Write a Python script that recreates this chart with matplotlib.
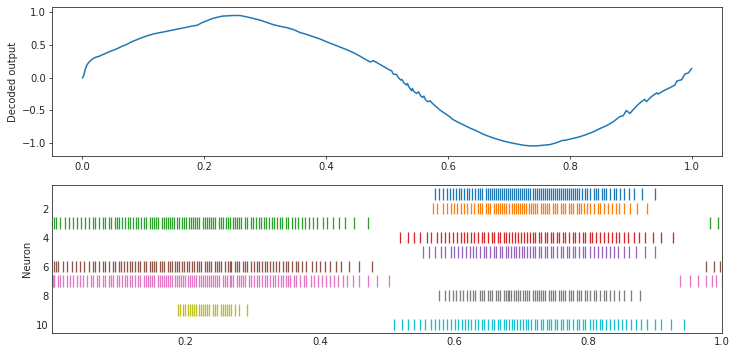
import matplotlib
matplotlib.use("Agg")
import matplotlib.pyplot as plt

# Decoded output trace (time, value)
t_dec = [0.000, 0.002, 0.004, 0.007, 0.010, 0.013, 0.017, 0.021, 0.028, 0.035, 0.045, 0.056,
         0.065, 0.073, 0.081, 0.089, 0.097, 0.106, 0.117, 0.128, 0.139, 0.149, 0.160, 0.171,
         0.180, 0.188, 0.196, 0.204, 0.212, 0.220, 0.229, 0.237, 0.247, 0.258, 0.269, 0.280,
         0.291, 0.302, 0.313, 0.324, 0.335, 0.346, 0.357, 0.368, 0.379, 0.390, 0.400, 0.411,
         0.422, 0.433, 0.445, 0.455, 0.466, 0.472, 0.477, 0.483, 0.494, 0.504, 0.507, 0.510,
         0.515, 0.518, 0.522, 0.524, 0.527, 0.532, 0.533, 0.536, 0.540, 0.541, 0.544, 0.548,
         0.551, 0.555, 0.558, 0.560, 0.563, 0.567, 0.570, 0.575, 0.581,
         0.586, 0.592, 0.597, 0.603, 0.608, 0.614, 0.625, 0.636, 0.646, 0.657, 0.668, 0.679,
         0.690, 0.701, 0.712, 0.723, 0.734, 0.745, 0.756, 0.767, 0.778, 0.786, 0.794, 0.805,
         0.816, 0.827, 0.838, 0.849, 0.860, 0.871, 0.881, 0.887, 0.892, 0.898, 0.903, 0.910,
         0.917, 0.922, 0.925, 0.933, 0.942, 0.944, 0.953, 0.964, 0.972, 0.975, 0.983, 0.988,
         0.994, 0.999]
v_dec = [0.000, 0.03, 0.11, 0.19, 0.23, 0.26, 0.29, 0.31, 0.33, 0.36, 0.40, 0.44,
         0.48, 0.51, 0.55, 0.58, 0.61, 0.64, 0.67, 0.69, 0.71, 0.73, 0.75, 0.77,
         0.79, 0.80, 0.84, 0.87, 0.90, 0.92, 0.94, 0.945, 0.95, 0.95, 0.93, 0.905,
         0.88, 0.845, 0.81, 0.785, 0.765, 0.735, 0.69, 0.66, 0.625, 0.59, 0.55, 0.51,
         0.47, 0.43, 0.38, 0.33, 0.27, 0.24, 0.26, 0.23, 0.17, 0.116, 0.106, 0.055,
         0.050, 0.004, -0.036, -0.026, -0.077, -0.112, -0.087, -0.148, -0.199, -0.163, -0.214, -0.239,
         -0.214, -0.280, -0.300, -0.280, -0.341, -0.366, -0.351, -0.40, -0.45,
         -0.49, -0.53, -0.56, -0.60, -0.64, -0.67, -0.72, -0.77, -0.81, -0.86, -0.90, -0.935,
         -0.965, -0.99, -1.01, -1.03, -1.04, -1.04, -1.03, -1.02, -0.99, -0.96, -0.95, -0.925,
         -0.90, -0.865, -0.825, -0.775, -0.73, -0.67, -0.595, -0.58, -0.50, -0.545, -0.49, -0.42,
         -0.365, -0.33, -0.365, -0.29, -0.23, -0.25, -0.20, -0.15, -0.11, -0.05, -0.03, 0.055,
         0.075, 0.14]

# Spike times (s) per neuron
n1 = [0.571,0.577,0.583,0.589,0.594,0.599,0.603,0.607,0.611,0.615,0.620,0.623,0.627,0.632,0.635,0.639,0.642,0.647,0.650,0.653,0.656,0.659,0.662,0.666,0.669,0.672,0.675,0.678,0.681,0.684,0.687,0.690,0.693,0.696,0.699,0.702,0.705,0.708,0.711,0.714,0.717,0.720,0.723,0.726,0.729,0.732,0.735,0.738,0.741,0.744,0.747,0.750,0.753,0.756,0.759,0.762,0.765,0.768,0.771,0.774,0.777,0.781,0.784,0.787,0.791,0.796,0.799,0.803,0.808,0.811,0.815,0.820,0.823,0.827,0.832,0.838,0.842,0.848,0.854,0.861,0.869,0.881,0.899]
n2 = [0.568,0.575,0.583,0.589,0.595,0.600,0.605,0.611,0.615,0.620,0.626,0.630,0.635,0.638,0.642,0.647,0.650,0.654,0.659,0.662,0.666,0.669,0.672,0.675,0.678,0.682,0.687,0.690,0.693,0.696,0.699,0.702,0.705,0.708,0.712,0.715,0.718,0.721,0.724,0.729,0.732,0.735,0.738,0.742,0.747,0.750,0.754,0.759,0.762,0.766,0.771,0.775,0.778,0.783,0.787,0.790,0.794,0.799,0.803,0.808,0.814,0.818,0.823,0.829,0.835,0.841,0.846,0.854,0.863,0.873,0.887]
n3 = [0.004,0.007,0.013,0.020,0.026,0.032,0.038,0.044,0.050,0.056,0.061,0.065,0.071,0.076,0.080,0.086,0.089,0.094,0.098,0.101,0.105,0.110,0.114,0.117,0.122,0.126,0.129,0.134,0.138,0.141,0.146,0.150,0.153,0.156,0.159,0.164,0.167,0.171,0.174,0.177,0.180,0.183,0.187,0.190,0.195,0.198,0.201,0.205,0.208,0.211,0.214,0.217,0.220,0.225,0.228,0.231,0.235,0.238,0.241,0.244,0.249,0.252,0.255,0.260,0.263,0.266,0.270,0.273,0.277,0.280,0.283,0.288,0.291,0.297,0.300,0.304,0.309,0.312,0.316,0.320,0.324,0.328,0.332,0.336,0.340,0.344,0.349,0.353,0.359,0.363,0.368,0.374,0.378,0.384,0.390,0.396,0.404,0.411,0.419,0.428,0.438,0.451,0.471,0.982,0.994]
n4 = [0.520,0.532,0.541,0.550,0.559,0.566,0.574,0.581,0.587,0.593,0.599,0.605,0.611,0.615,0.620,0.626,0.630,0.635,0.641,0.645,0.650,0.656,0.660,0.665,0.669,0.674,0.678,0.682,0.687,0.691,0.696,0.700,0.705,0.709,0.714,0.717,0.721,0.726,0.730,0.735,0.739,0.744,0.748,0.753,0.757,0.762,0.766,0.772,0.777,0.781,0.787,0.792,0.796,0.802,0.806,0.811,0.817,0.823,0.829,0.835,0.841,0.846,0.854,0.860,0.869,0.876,0.885,0.896,0.908,0.926]
n5 = [0.553,0.563,0.572,0.581,0.587,0.595,0.600,0.606,0.612,0.618,0.624,0.629,0.633,0.639,0.644,0.648,0.653,0.659,0.663,0.668,0.672,0.677,0.681,0.685,0.690,0.693,0.697,0.702,0.705,0.709,0.714,0.718,0.721,0.726,0.730,0.735,0.739,0.744,0.748,0.754,0.759,0.763,0.768,0.772,0.777,0.781,0.786,0.792,0.796,0.802,0.808,0.814,0.820,0.826,0.832,0.838,0.845,0.854,0.861,0.872,0.884,0.899]
n6 = [0.004,0.007,0.010,0.017,0.023,0.031,0.037,0.043,0.049,0.055,0.061,0.065,0.071,0.076,0.080,0.086,0.091,0.095,0.100,0.104,0.108,0.113,0.117,0.120,0.125,0.129,0.132,0.137,0.141,0.146,0.149,0.153,0.156,0.161,0.165,0.168,0.173,0.177,0.180,0.184,0.187,0.190,0.195,0.198,0.202,0.205,0.210,0.213,0.217,0.220,0.223,0.228,0.232,0.235,0.238,0.243,0.246,0.250,0.253,0.258,0.263,0.266,0.268,0.273,0.276,0.280,0.285,0.289,0.292,0.297,0.301,0.306,0.309,0.313,0.318,0.321,0.325,0.330,0.334,0.339,0.345,0.349,0.353,0.359,0.364,0.368,0.374,0.380,0.388,0.394,0.400,0.407,0.415,0.424,0.432,0.444,0.458,0.477,0.975,0.987,0.997]
n7 = [0.002,0.003,0.004,0.009,0.013,0.017,0.023,0.028,0.032,0.038,0.043,0.047,0.053,0.058,0.062,0.068,0.071,0.076,0.080,0.085,0.089,0.092,0.097,0.101,0.105,0.110,0.113,0.117,0.120,0.125,0.129,0.132,0.137,0.140,0.144,0.147,0.150,0.153,0.158,0.161,0.165,0.168,0.171,0.174,0.177,0.180,0.184,0.187,0.190,0.193,0.196,0.199,0.204,0.207,0.210,0.213,0.216,0.219,0.222,0.225,0.228,0.231,0.234,0.238,0.241,0.244,0.247,0.250,0.255,0.258,0.261,0.266,0.268,0.271,0.276,0.279,0.283,0.286,0.289,0.294,0.297,0.301,0.306,0.309,0.313,0.318,0.321,0.325,0.330,0.333,0.337,0.342,0.345,0.349,0.353,0.356,0.362,0.365,0.371,0.376,0.380,0.386,0.391,0.397,0.403,0.409,0.415,0.421,0.427,0.434,0.441,0.450,0.459,0.471,0.485,0.503,0.937,0.952,0.964,0.975,0.984,0.991,0.999]
n8 = [0.578,0.586,0.593,0.599,0.603,0.609,0.614,0.620,0.624,0.629,0.632,0.638,0.641,0.645,0.650,0.653,0.657,0.662,0.665,0.669,0.674,0.677,0.680,0.682,0.685,0.690,0.693,0.696,0.699,0.703,0.706,0.709,0.712,0.717,0.720,0.723,0.726,0.729,0.733,0.736,0.741,0.744,0.747,0.751,0.756,0.760,0.763,0.766,0.771,0.775,0.778,0.783,0.787,0.790,0.795,0.798,0.802,0.808,0.812,0.817,0.823,0.827,0.833,0.839,0.846,0.854,0.864,0.878]
n9 = [0.189,0.192,0.196,0.199,0.204,0.207,0.210,0.213,0.216,0.219,0.223,0.226,0.229,0.232,0.235,0.240,0.244,0.247,0.252,0.255,0.258,0.261,0.264,0.268,0.274,0.280,0.291]
n10 = [0.510,0.523,0.532,0.541,0.550,0.557,0.565,0.572,0.578,0.584,0.590,0.596,0.602,0.606,0.612,0.617,0.621,0.626,0.632,0.636,0.641,0.645,0.651,0.656,0.660,0.665,0.669,0.674,0.678,0.682,0.687,0.690,0.694,0.699,0.703,0.708,0.711,0.715,0.720,0.724,0.729,0.732,0.738,0.741,0.745,0.750,0.754,0.759,0.763,0.768,0.772,0.778,0.783,0.787,0.792,0.796,0.802,0.807,0.811,0.817,0.821,0.827,0.832,0.838,0.844,0.851,0.857,0.864,0.872,0.879,0.888,0.899,0.909,0.923,0.943]

spikes = [n1, n2, n3, n4, n5, n6, n7, n8, n9, n10]
neuron_ids = list(range(1, 11))
t_start, t_end = 0.001, 1.0

W, H = 737, 357
fig = plt.figure(figsize=(W / 72, H / 72), dpi=72)
plt.rcParams['font.size'] = 10
dark = '#262626'

ax1 = fig.add_axes([52.3 / W, (H - 155.7) / H, 670 / W, 148.4 / H])
ax1.plot(t_dec, v_dec, color='C0', lw=1.5)
ax1.set_xlim(-0.0495, 1.0495)
ax1.set_ylim(-1.19, 1.075)
ax1.set_xticks([0.0, 0.2, 0.4, 0.6, 0.8, 1.0])
ax1.set_yticks([-1.0, -0.5, 0.0, 0.5, 1.0])
ax1.set_ylabel('Decoded output', color=dark)
ax1.tick_params(colors=dark, length=3)

ax2 = fig.add_axes([52.3 / W, (H - 333.3) / H, 670 / W, 148 / H])
colors = ['C%d' % i for i in range(10)]
ax2.eventplot(spikes, lineoffsets=neuron_ids, linelengths=0.8, colors=colors, linewidths=1.3)
ax2.set_xlim(t_start, t_end)
ax2.set_ylim(10.6, 0.4)
ax2.set_xticks([0.2, 0.4, 0.6, 0.8, 1.0])
ax2.set_yticks([2, 4, 6, 8, 10])
ax2.set_ylabel('Neuron', color=dark)
ax2.tick_params(colors=dark, length=0)

for ax in (ax1, ax2):
    for s in ax.spines.values():
        s.set_color(dark)

fig.savefig('out.png', dpi=72)
